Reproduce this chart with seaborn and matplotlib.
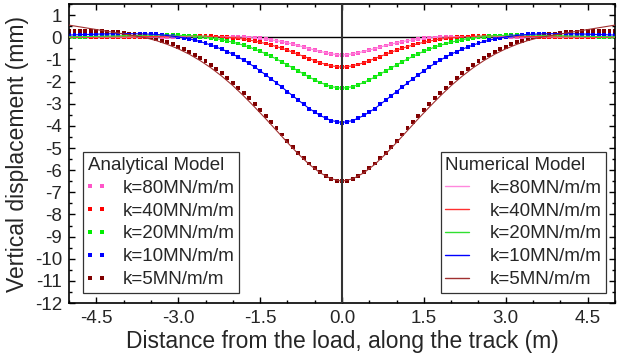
"""
Vertical rail displacement: analytical model (dots) vs numerical model (lines)
"""

import numpy as np
import pandas as pd
import matplotlib
matplotlib.use("Agg")
import matplotlib.pyplot as plt
from matplotlib.lines import Line2D
from matplotlib.legend_handler import HandlerLine2D
from matplotlib.ticker import MultipleLocator, FormatStrFormatter
import seaborn as sns


# =============================================================================
# DATA
# =============================================================================
LABELS = ["k=80MN/m/m", "k=40MN/m/m", "k=20MN/m/m", "k=10MN/m/m", "k=5MN/m/m"]
DOT_COLORS = ["#ff55c8", "#ff0000", "#00ee00", "#0000ff", "#800000"]
LINE_COLORS = ["#ff88dd", "#ff3030", "#30e030", "#0000ff", "#a03030"]

# analytical model: one dot every 0.1 m from -5 to 5
X_DOTS = np.linspace(-5, 5, 101)

ANA_K80 = [0.00, 0.00, 0.00, 0.00, 0.00, 0.00, 0.00, 0.00, 0.00, 0.00,
           0.00, 0.00, 0.01, 0.01, 0.01, 0.01, 0.01, 0.01, 0.01, 0.02,
           0.02, 0.02, 0.03, 0.03, 0.03, 0.03, 0.03, 0.03, 0.03, 0.03,
           0.02, 0.02, 0.01, -0.01, -0.03, -0.05, -0.08, -0.11, -0.15, -0.20,
           -0.25, -0.31, -0.37, -0.44, -0.51, -0.57, -0.64, -0.70, -0.75, -0.79,
           -0.80,
           -0.79, -0.75, -0.70, -0.64, -0.57, -0.51, -0.44, -0.37, -0.31, -0.25,
           -0.20, -0.15, -0.11, -0.08, -0.05, -0.03, -0.01, 0.01, 0.02, 0.02,
           0.03, 0.03, 0.03, 0.03, 0.03, 0.03, 0.03, 0.03, 0.02, 0.02,
           0.02, 0.01, 0.01, 0.01, 0.01, 0.01, 0.01, 0.01, 0.00, 0.00,
           0.00, 0.00, 0.00, 0.00, 0.00, 0.00, 0.00, 0.00, 0.00, 0.00]

ANA_K40 = [0.00, 0.00, 0.00, 0.00, 0.00, 0.00, 0.01, 0.01, 0.01, 0.01,
           0.02, 0.02, 0.02, 0.03, 0.03, 0.04, 0.04, 0.05, 0.05, 0.05,
           0.06, 0.06, 0.06, 0.06, 0.06, 0.05, 0.04, 0.03, 0.02, 0.00,
           -0.02, -0.05, -0.08, -0.12, -0.17, -0.22, -0.28, -0.34, -0.42, -0.50,
           -0.58, -0.67, -0.77, -0.87, -0.96, -1.06, -1.15, -1.23, -1.29, -1.33,
           -1.35,
           -1.33, -1.29, -1.23, -1.15, -1.06, -0.96, -0.87, -0.77, -0.67, -0.58,
           -0.50, -0.42, -0.34, -0.28, -0.22, -0.17, -0.12, -0.08, -0.05, -0.02,
           0.00, 0.02, 0.03, 0.04, 0.05, 0.06, 0.06, 0.06, 0.06, 0.06,
           0.05, 0.05, 0.05, 0.04, 0.04, 0.03, 0.03, 0.02, 0.02, 0.02,
           0.01, 0.01, 0.01, 0.01, 0.00, 0.00, 0.00, 0.00, 0.00, 0.00]

ANA_K20 = [0.02, 0.02, 0.03, 0.03, 0.04, 0.04, 0.05, 0.05, 0.06, 0.07,
           0.07, 0.08, 0.08, 0.09, 0.09, 0.10, 0.10, 0.10, 0.10, 0.09,
           0.09, 0.08, 0.07, 0.05, 0.03, 0.00, -0.03, -0.07, -0.11, -0.16,
           -0.22, -0.28, -0.36, -0.44, -0.53, -0.63, -0.74, -0.86, -0.98, -1.11,
           -1.25, -1.38, -1.52, -1.66, -1.80, -1.93, -2.04, -2.15, -2.23, -2.28,
           -2.30,
           -2.28, -2.23, -2.15, -2.04, -1.93, -1.80, -1.66, -1.52, -1.38, -1.25,
           -1.11, -0.98, -0.86, -0.74, -0.63, -0.53, -0.44, -0.36, -0.28, -0.22,
           -0.16, -0.11, -0.07, -0.03, 0.00, 0.03, 0.05, 0.07, 0.08, 0.09,
           0.09, 0.10, 0.10, 0.10, 0.10, 0.09, 0.09, 0.08, 0.08, 0.07,
           0.07, 0.06, 0.05, 0.05, 0.04, 0.04, 0.03, 0.03, 0.02, 0.02]

ANA_K10 = [0.10, 0.11, 0.12, 0.13, 0.13, 0.14, 0.15, 0.16, 0.16, 0.16,
           0.17, 0.17, 0.16, 0.16, 0.15, 0.14, 0.13, 0.11, 0.08, 0.05,
           0.02, -0.03, -0.07, -0.13, -0.19, -0.26, -0.35, -0.44, -0.54, -0.65,
           -0.76, -0.89, -1.03, -1.18, -1.34, -1.51, -1.69, -1.87, -2.06, -2.26,
           -2.45, -2.65, -2.84, -3.03, -3.22, -3.38, -3.53, -3.66, -3.76, -3.83,
           -3.85,
           -3.83, -3.76, -3.66, -3.53, -3.38, -3.22, -3.03, -2.84, -2.65, -2.45,
           -2.26, -2.06, -1.87, -1.69, -1.51, -1.34, -1.18, -1.03, -0.89, -0.76,
           -0.65, -0.54, -0.44, -0.35, -0.26, -0.19, -0.13, -0.07, -0.03, 0.02,
           0.05, 0.08, 0.11, 0.13, 0.14, 0.15, 0.16, 0.16, 0.17, 0.17,
           0.16, 0.16, 0.16, 0.15, 0.14, 0.13, 0.13, 0.12, 0.11, 0.10]

ANA_K5 = [0.27, 0.28, 0.28, 0.28, 0.28, 0.28, 0.27, 0.26, 0.24, 0.22,
          0.20, 0.17, 0.13, 0.09, 0.04, -0.01, -0.08, -0.15, -0.23, -0.32,
          -0.42, -0.53, -0.65, -0.78, -0.93, -1.09, -1.25, -1.44, -1.63, -1.83,
          -2.05, -2.28, -2.51, -2.76, -3.02, -3.28, -3.56, -3.83, -4.11, -4.39,
          -4.67, -4.95, -5.21, -5.46, -5.70, -5.91, -6.10, -6.27, -6.38, -6.47,
          -6.50,
          -6.47, -6.38, -6.27, -6.10, -5.91, -5.70, -5.46, -5.21, -4.95, -4.67,
          -4.39, -4.11, -3.83, -3.56, -3.28, -3.02, -2.76, -2.51, -2.28, -2.05,
          -1.83, -1.63, -1.44, -1.25, -1.09, -0.93, -0.78, -0.65, -0.53, -0.42,
          -0.32, -0.23, -0.15, -0.08, -0.01, 0.04, 0.09, 0.13, 0.17, 0.20,
          0.22, 0.24, 0.26, 0.27, 0.28, 0.28, 0.28, 0.28, 0.28, 0.27]

# numerical model: one point every 0.2 m from -5 to 5
X_LINE = np.linspace(-5, 5, 51)

NUM_K80 = [0.00, 0.00, 0.00, 0.00, 0.00, 0.00, 0.01, 0.01, 0.01, 0.01,
           0.02, 0.03, 0.03, 0.03, 0.03, 0.02, 0.01, -0.03, -0.08, -0.15,
           -0.25, -0.37, -0.51, -0.64, -0.75,
           -0.80,
           -0.75, -0.64, -0.51, -0.37, -0.25, -0.15, -0.08, -0.03, 0.01, 0.02,
           0.03, 0.03, 0.03, 0.03, 0.02, 0.01, 0.01, 0.01, 0.01, 0.00,
           0.00, 0.00, 0.00, 0.00, 0.00]

NUM_K40 = [0.00, 0.00, 0.00, 0.01, 0.01, 0.02, 0.02, 0.03, 0.04, 0.05,
           0.06, 0.06, 0.06, 0.04, 0.02, -0.02, -0.08, -0.17, -0.28, -0.42,
           -0.58, -0.77, -0.96, -1.15, -1.29,
           -1.35,
           -1.29, -1.15, -0.96, -0.77, -0.58, -0.42, -0.28, -0.17, -0.08, -0.02,
           0.02, 0.04, 0.06, 0.06, 0.06, 0.05, 0.04, 0.03, 0.02, 0.02,
           0.01, 0.01, 0.00, 0.00, 0.00]

NUM_K20 = [0.02, 0.03, 0.04, 0.05, 0.06, 0.07, 0.08, 0.09, 0.10, 0.10,
           0.09, 0.07, 0.03, -0.03, -0.11, -0.22, -0.36, -0.53, -0.74, -0.98,
           -1.25, -1.52, -1.80, -2.04, -2.23,
           -2.30,
           -2.23, -2.04, -1.80, -1.52, -1.25, -0.98, -0.74, -0.53, -0.36, -0.22,
           -0.11, -0.03, 0.03, 0.07, 0.09, 0.10, 0.10, 0.09, 0.08, 0.07,
           0.06, 0.05, 0.04, 0.03, 0.02]

NUM_K10 = [0.10, 0.12, 0.13, 0.15, 0.16, 0.17, 0.16, 0.15, 0.13, 0.08,
           0.02, -0.07, -0.19, -0.35, -0.54, -0.76, -1.03, -1.34, -1.69, -2.06,
           -2.45, -2.84, -3.22, -3.53, -3.76,
           -3.85,
           -3.76, -3.53, -3.22, -2.84, -2.45, -2.06, -1.69, -1.34, -1.03, -0.76,
           -0.54, -0.35, -0.19, -0.07, 0.02, 0.08, 0.13, 0.15, 0.16, 0.17,
           0.16, 0.15, 0.13, 0.12, 0.10]

NUM_K5 = [0.55, 0.47, 0.39, 0.31, 0.23, 0.15, 0.07, -0.02, -0.15, -0.32,
          -0.52, -0.76, -1.05, -1.38, -1.76, -2.18, -2.65, -3.15, -3.67, -4.21,
          -4.75, -5.27, -5.74, -6.12, -6.39,
          -6.50,
          -6.39, -6.12, -5.74, -5.27, -4.75, -4.21, -3.67, -3.15, -2.65, -2.18,
          -1.76, -1.38, -1.05, -0.76, -0.52, -0.32, -0.15, -0.02, 0.07, 0.15,
          0.23, 0.31, 0.39, 0.47, 0.55]


def long_df(x, series):
    frames = [pd.DataFrame({"x": x, "w": vals, "k": lab})
              for lab, vals in zip(LABELS, series)]
    return pd.concat(frames, ignore_index=True)


# =============================================================================
# PLOT
# =============================================================================
ana = long_df(X_DOTS, [ANA_K80, ANA_K40, ANA_K20, ANA_K10, ANA_K5])
num = long_df(X_LINE, [NUM_K80, NUM_K40, NUM_K20, NUM_K10, NUM_K5])

sns.set_style("ticks")
plt.rcParams["font.family"] = ["Liberation Sans", "DejaVu Sans"]
plt.rcParams["axes.unicode_minus"] = False

fig = plt.figure(figsize=(6.19, 3.58), dpi=100)
ax = fig.add_axes([0.1115, 0.1536, 0.882, 0.835])

ax.axhline(0, color="black", lw=1.0, zorder=1)
ax.axvline(0, color="#333333", lw=1.5, zorder=5)

sns.scatterplot(data=ana, x="x", y="w", hue="k", palette=dict(zip(LABELS, DOT_COLORS)),
                marker="s", s=8, linewidth=0, legend=False, ax=ax, zorder=2)
sns.lineplot(data=num, x="x", y="w", hue="k", palette=dict(zip(LABELS, LINE_COLORS)),
             estimator=None, errorbar=None, lw=0.8, legend=False, ax=ax, zorder=3)

ax.set_xlim(-5, 5)
ax.set_ylim(-12, 1.5)
ax.xaxis.set_major_locator(MultipleLocator(1.5))
ax.xaxis.set_minor_locator(MultipleLocator(0.5))
ax.xaxis.set_major_formatter(FormatStrFormatter("%.1f"))
ax.yaxis.set_major_locator(MultipleLocator(1))
ax.yaxis.set_minor_locator(MultipleLocator(0.5))
ax.tick_params(which="both", direction="in", top=True, right=True,
               labelsize=13.5, width=1, color="black")
ax.tick_params(which="major", length=4, pad=5)
ax.tick_params(which="minor", length=2)
for sp in ax.spines.values():
    sp.set_color("black")
    sp.set_linewidth(1.2)

ax.set_xlabel("Distance from the load, along the track (m)", fontsize=16.5, labelpad=2)
ax.set_ylabel("Vertical displacement (mm)", fontsize=16.5, labelpad=4)

leg_kw = dict(borderaxespad=0, labelspacing=0.31, borderpad=0.25, fontsize=13.5,
              title_fontsize=13.5, alignment="left", fancybox=False, framealpha=1,
              edgecolor="#333333")

ana_handles = [Line2D([], [], ls="none", marker="s", ms=2.8, mew=0, color=c)
               for c in DOT_COLORS]
leg1 = ax.legend(ana_handles, LABELS, title="Analytical Model", loc="lower left",
                 bbox_to_anchor=(0.0256, 0.0334), numpoints=2, handlelength=0.84,
                 handletextpad=1.03,
                 handler_map={Line2D: HandlerLine2D(marker_pad=0.1, numpoints=2)},
                 **leg_kw)
leg1.get_frame().set_linewidth(0.9)
ax.add_artist(leg1)

num_handles = [Line2D([], [], color=c, lw=1.0) for c in LINE_COLORS]
leg2 = ax.legend(num_handles, LABELS, title="Numerical Model", loc="lower right",
                 bbox_to_anchor=(0.9835, 0.0334), handlelength=1.28,
                 handletextpad=1.07, **leg_kw)
leg2.get_frame().set_linewidth(0.9)

fig.savefig("out.png", dpi=100)
